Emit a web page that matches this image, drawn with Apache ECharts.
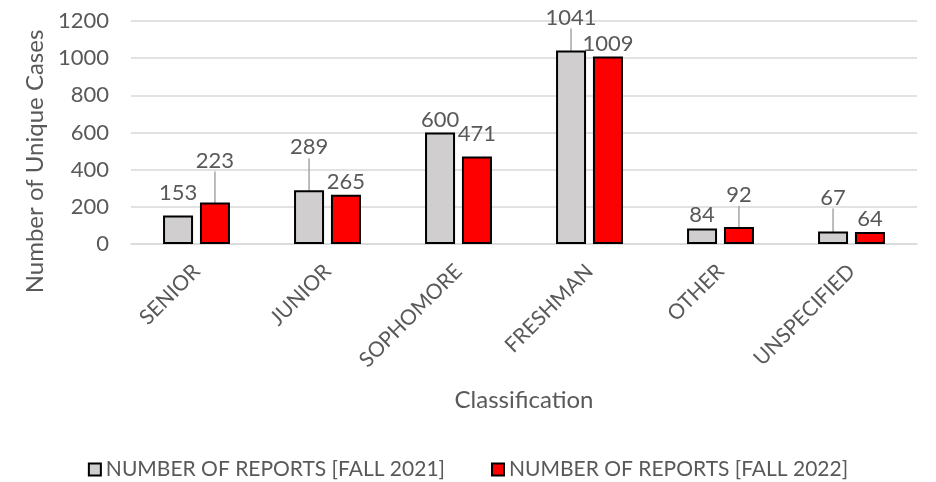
<!DOCTYPE html>
<html>
<head>
<meta charset="utf-8">
<script src="https://cdn.jsdelivr.net/npm/echarts@6/dist/echarts.min.js"></script>
<style>
  html, body { margin: 0; padding: 0; background: #fff; }
  #chart { width: 936px; height: 482px; }
</style>
</head>
<body>
<div id="chart"></div>
<script>
const categories = ['SENIOR', 'JUNIOR', 'SOPHOMORE', 'FRESHMAN', 'OTHER', 'UNSPECIFIED']
const fall2021 = [153, 289, 600, 1041, 84, 67]
const fall2022 = [223, 265, 471, 1009, 92, 64]
const seriesNames = ['NUMBER OF REPORTS [FALL 2021]', 'NUMBER OF REPORTS [FALL 2022]']

// label lifts (px) and which of them get a leader line, as in the source chart
const labelLift = [
  [-10, -30, 0, -20, 0, -21],
  [-29, 0, -10, 0, -19, 0]
]
const leader = [
  [false, true, false, true, false, true],
  [true, false, false, false, true, false]
]

const textColor = '#595959'
const font = 'Lato, "Open Sans", sans-serif'

const buildData = (values, s) => values.map((v, i) => ({
  value: v,
  labelLine: { show: leader[s][i] }
}))

const makeSeries = (name, values, s, color) => ({
  name,
  type: 'bar',
  data: buildData(values, s),
  barWidth: 30,
  barGap: '23%',
  itemStyle: { color, borderColor: '#000', borderWidth: 2 },
  label: {
    show: true,
    position: 'top',
    distance: 2,
    color: textColor,
    fontFamily: font,
    fontSize: 22
  },
  labelLayout: (p) => ({ dy: labelLift[s][p.dataIndex] }),
  labelLine: { show: true, lineStyle: { color: '#a6a6a6', width: 1.5 } }
})

const chart = echarts.init(document.getElementById('chart'))
chart.setOption({
  animation: false,
  grid: { left: 131, right: 19, top: 21, bottom: 238 },
  legend: {
    top: 454,
    left: 'center',
    itemWidth: 12,
    itemHeight: 12,
    itemGap: 46,
    icon: 'rect',
    textStyle: { color: textColor, fontFamily: font, fontSize: 21 },
    data: seriesNames
  },
  xAxis: {
    type: 'category',
    data: categories,
    name: 'Classification',
    nameLocation: 'middle',
    nameGap: 144,
    nameTextStyle: { color: textColor, fontFamily: font, fontSize: 24 },
    axisLine: { lineStyle: { color: '#d9d9d9', width: 1.5 } },
    axisTick: { show: false },
    axisLabel: {
      rotate: 45,
      margin: 24,
      color: textColor,
      fontFamily: font,
      fontSize: 21
    }
  },
  yAxis: {
    type: 'value',
    min: 0,
    max: 1200,
    interval: 200,
    name: 'Number of Unique Cases',
    nameLocation: 'middle',
    nameGap: 82,
    nameRotate: 90,
    nameTextStyle: { color: textColor, fontFamily: font, fontSize: 24, padding: [0, 58, 0, 0] },
    axisLabel: {
      margin: 22,
      color: textColor,
      fontFamily: font,
      fontSize: 22,
      formatter: (v) => String(v)
    },
    splitLine: { lineStyle: { color: '#d9d9d9', width: 1.5 } }
  },
  series: [
    makeSeries(seriesNames[0], fall2021, 0, '#d0cece'),
    makeSeries(seriesNames[1], fall2022, 1, '#ff0000')
  ]
})
</script>
</body>
</html>
